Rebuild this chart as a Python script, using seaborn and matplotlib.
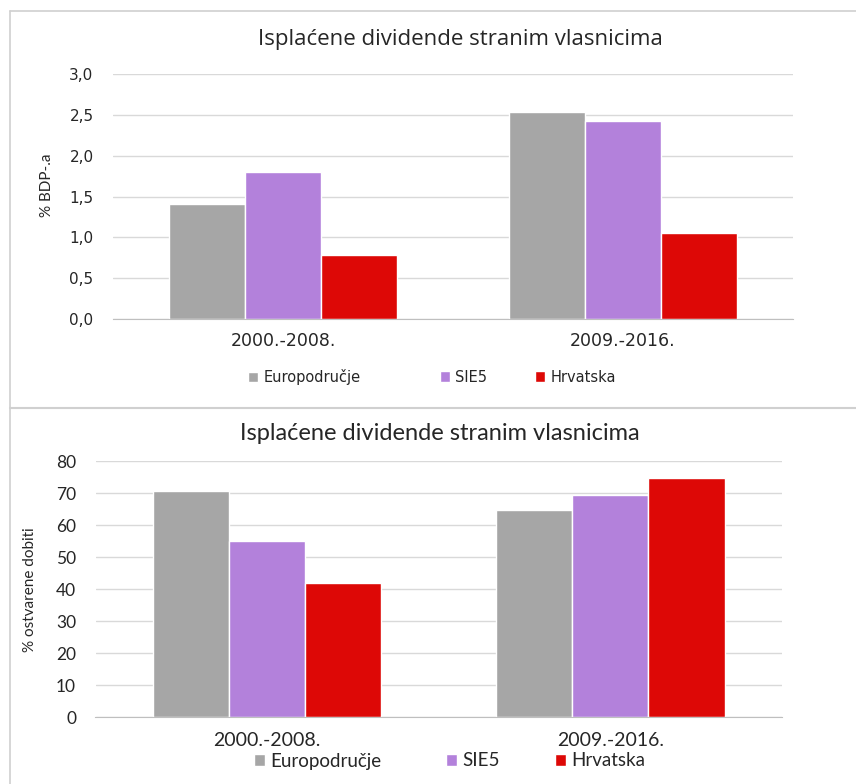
import matplotlib.pyplot as plt
import matplotlib.ticker as mticker
from matplotlib.lines import Line2D
import pandas as pd
import seaborn as sns

# data
razdoblja = ["2000.-2008.", "2009.-2016."]
serije = ["Europodručje", "SIE5", "Hrvatska"]
boje = ["#A6A6A6", "#B381DB", "#DD0806"]

bdp_europodrucje = [1.41, 2.53]
bdp_sie5 = [1.80, 2.42]
bdp_hrvatska = [0.78, 1.05]

dobit_europodrucje = [70.7, 64.8]
dobit_sie5 = [55.0, 69.5]
dobit_hrvatska = [42.0, 74.7]

naslov = "Isplaćene dividende stranim vlasnicima"


def long_df(a, b, c):
    rows = []
    for s, vals in zip(serije, [a, b, c]):
        for r, v in zip(razdoblja, vals):
            rows.append({"razdoblje": r, "serija": s, "vrijednost": v})
    return pd.DataFrame(rows)


sns.set_style("white")
plt.rcParams["font.family"] = ["DejaVu Sans"]

fig = plt.figure(figsize=(8.56, 7.84), dpi=100)
W, H = 856, 784


def px_axes(left, right, top, bottom):
    return fig.add_axes([left / W, 1 - bottom / H, (right - left) / W, (bottom - top) / H])


def style_axes(ax, ymax, step, fmt, font, fs_y, fs_x, ypad, xpad):
    ax.set_ylim(0, ymax)
    ax.yaxis.set_major_locator(mticker.MultipleLocator(step))
    ax.yaxis.set_major_formatter(mticker.FuncFormatter(fmt))
    ax.yaxis.grid(True, color="#D9D9D9", lw=1)
    ax.set_axisbelow(True)
    for sp in ["top", "left", "right"]:
        ax.spines[sp].set_visible(False)
    ax.spines["bottom"].set_color("#BFBFBF")
    ax.tick_params(axis="both", length=0)
    ax.tick_params(axis="y", pad=ypad)
    ax.tick_params(axis="x", pad=xpad)
    for t in ax.get_yticklabels():
        t.set_fontfamily(font)
        t.set_fontsize(fs_y)
    for t in ax.get_xticklabels():
        t.set_fontfamily(font)
        t.set_fontsize(fs_x)
    ax.set_xlabel("")
    ax.set_ylabel("")


def legend_items(handles, labels, xs, y, font, size, hl, pad):
    # one small legend per entry, so the gaps can follow the original
    for h, l, x in zip(handles, labels, xs):
        fig.legend([h], [l], loc="center left", bbox_to_anchor=(x / W, 1 - y / H),
                   frameon=False, borderpad=0, borderaxespad=0,
                   handlelength=hl, handleheight=hl, handletextpad=pad,
                   prop={"family": font, "size": size})


# --- gornji graf: % BDP-a
ax1 = px_axes(113, 793, 74, 319)
df1 = long_df(bdp_europodrucje, bdp_sie5, bdp_hrvatska)
sns.barplot(data=df1, x="razdoblje", y="vrijednost", hue="serija", hue_order=serije,
            palette=boje, saturation=1, width=0.67, ax=ax1, errorbar=None)
h1, l1 = ax1.get_legend_handles_labels()
ax1.get_legend().remove()
style_axes(ax1, 3.0, 0.5, lambda v, p: f"{v:.1f}".replace(".", ","),
           "DejaVu Sans", 11, 12.5, 14, 9)
fig.text(460 / W, 1 - 40 / H, naslov, ha="center", va="center",
         fontsize=16, family="Open Sans")
fig.text(47 / W, 1 - 185 / H, "% BDP-.a", ha="center", va="center",
         rotation=90, fontsize=11, family="Lato")
legend_items(h1, l1, [248, 440, 535], 377, "DejaVu Sans", 10.5, 0.7, 0.35)

# --- donji graf: % ostvarene dobiti
ax2 = px_axes(95.5, 782, 461, 717)
df2 = long_df(dobit_europodrucje, dobit_sie5, dobit_hrvatska)
sns.barplot(data=df2, x="razdoblje", y="vrijednost", hue="serija", hue_order=serije,
            palette=boje, saturation=1, width=0.665, ax=ax2, errorbar=None)
h2, l2 = ax2.get_legend_handles_labels()
ax2.get_legend().remove()
style_axes(ax2, 80, 10, lambda v, p: f"{v:.0f}", "Lato", 12.5, 14, 14, 11)
fig.text(440 / W, 1 - 434 / H, naslov, ha="center", va="center",
         fontsize=17, family="Lato")
fig.text(30 / W, 1 - 590 / H, "% ostvarene dobiti", ha="center", va="center",
         rotation=90, fontsize=11, family="Lato")
legend_items(h2, l2, [254, 446, 555], 761, "Lato", 13.5, 0.6, 0.27)

# okviri panela
rub = "#D0D0D0"
fig.add_artist(Line2D([10 / W, 1], [1 - 11 / H, 1 - 11 / H], color=rub, lw=1.2))
fig.add_artist(Line2D([10 / W, 10 / W], [1 - 11 / H, 0], color=rub, lw=1.2))
fig.add_artist(Line2D([10 / W, 1], [1 - 408 / H, 1 - 408 / H], color=rub, lw=1.5))

fig.savefig("out.png", dpi=100)
